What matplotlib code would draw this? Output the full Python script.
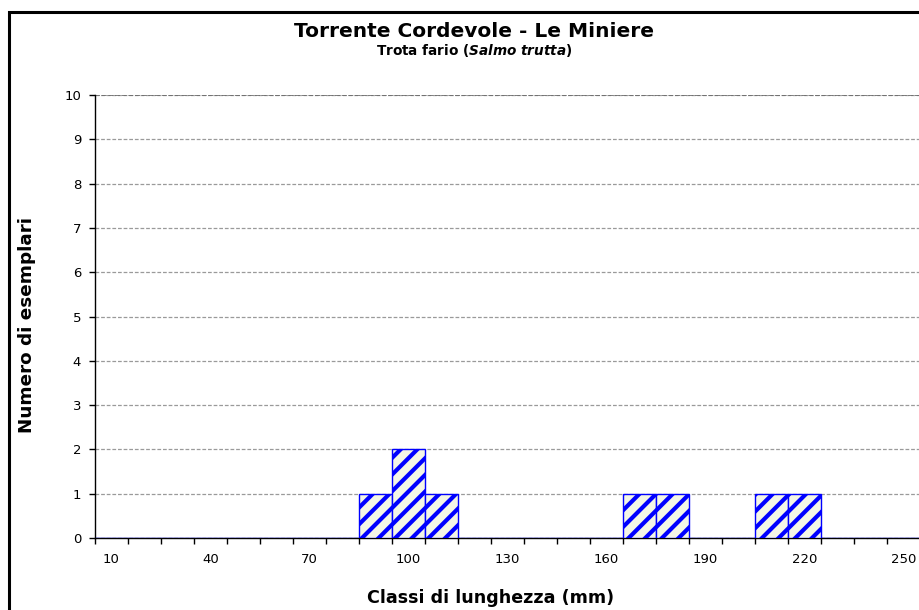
import matplotlib.pyplot as plt
from matplotlib.patches import Rectangle

plt.rcParams.update({
    'font.family': 'DejaVu Sans',
    'mathtext.fontset': 'dejavusans',
    'hatch.linewidth': 3.0,
})

# length classes (mm) and number of specimens per class
classes = list(range(10, 260, 10))
counts = [0, 0, 0, 0, 0, 0, 0, 0, 1, 2, 1, 0, 0, 0, 0, 0, 1, 1, 0, 0, 1, 1, 0, 0, 0]
label_every = 3

W, H = 919, 610
fig = plt.figure(figsize=(W / 100, H / 100), dpi=100)

# outer chart frame (extends past the right/bottom edges like the source)
fig.patches.append(Rectangle((9 / W, -0.05), 1.2, (H - 12) / H + 0.05, transform=fig.transFigure,
                             fill=False, edgecolor='black', lw=2.2))

ax = fig.add_axes([95 / W, (H - 538) / H, 825 / W, 443 / H])
x = list(range(len(classes)))
ax.bar(x, counts, width=1.0, facecolor='#f4f6e6', edgecolor='#0000ff', hatch='//', lw=1.0, zorder=3)

ax.set_xlim(-0.5, len(classes) - 0.5)
ax.set_ylim(0, 10)
ax.set_yticks(range(0, 11))
ax.tick_params(axis='y', direction='out', length=4, width=1, labelsize=9.5, pad=6, colors='black')
ax.set_xticks(x[::label_every])
ax.set_xticklabels([str(c) for c in classes[::label_every]])
ax.set_xticks([i - 0.5 for i in range(len(classes) + 1)], minor=True)
ax.tick_params(axis='x', which='major', length=0, labelsize=9.5, pad=11)
ax.tick_params(axis='x', which='minor', direction='out', length=4, width=1)

ax.yaxis.grid(True, color='#9a9a9a', ls=(0, (3, 1.5)), lw=0.9, zorder=0)
ax.set_axisbelow(True)
for s in ('top', 'right'):
    ax.spines[s].set_visible(False)
for s in ('left', 'bottom'):
    ax.spines[s].set_linewidth(1.0)
ax.axhline(10, color='#6a6a6a', lw=1.2, ls=(0, (3, 1)), zorder=1)

fig.text(474 / W, 1 - 37 / H, 'Torrente Cordevole - Le Miniere', ha='center', va='baseline',
         fontsize=14.5, fontweight='bold')
fig.text(474 / W, 1 - 55 / H, r'Trota fario ($\mathbfit{Salmo\ trutta}$)', ha='center', va='baseline',
         fontsize=9.8, fontweight='bold')
fig.text(491 / W, 1 - 598 / H, 'Classi di lunghezza (mm)', ha='center', va='center',
         fontsize=12.6, fontweight='bold')
fig.text(27 / W, 1 - 325 / H, 'Numero di esemplari', ha='center', va='center', rotation=90,
         fontsize=13.2, fontweight='bold')

fig.savefig('out.png', dpi=100)
